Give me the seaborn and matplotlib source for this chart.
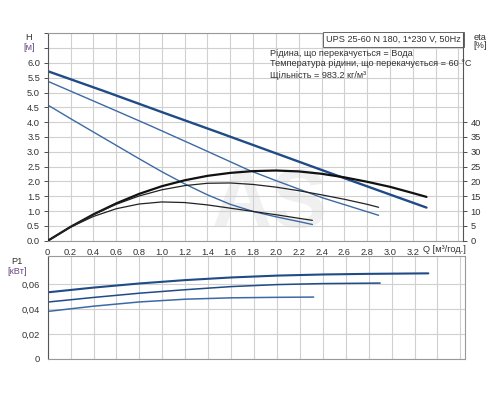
import numpy as np
import pandas as pd
import matplotlib
matplotlib.use("Agg")
import matplotlib.pyplot as plt
import seaborn as sns

# ---- data ----
q_h3 = [0.0, 0.5, 1.0, 1.5, 2.0, 2.5, 3.0, 3.32]
h3 = [5.72, 5.04, 4.34, 3.65, 2.95, 2.25, 1.56, 1.12]
q_h2 = [0.0, 0.5, 0.9, 1.3, 1.77, 2.0, 2.4, 2.9]
h2 = [5.38, 4.55, 3.88, 3.19, 2.37, 2.03, 1.46, 0.86]
q_h1 = [0.0, 0.2, 0.4, 0.6, 0.8, 1.0, 1.2, 1.4, 1.6, 1.8, 2.0, 2.2, 2.32]
h1 = [4.58, 4.12, 3.67, 3.22, 2.77, 2.33, 1.92, 1.55, 1.23, 0.99, 0.81, 0.65, 0.55]

q_e3 = [0.0, 0.2, 0.4, 0.6, 0.8, 1.0, 1.2, 1.4, 1.6, 1.8, 2.0, 2.2, 2.4, 2.6, 2.8, 3.0, 3.2, 3.32]
eta3 = [0.0, 4.7, 8.9, 12.6, 15.8, 18.4, 20.4, 21.9, 22.9, 23.5, 23.7, 23.4, 22.6, 21.4,
        19.9, 18.2, 16.1, 14.8]
q_e2 = [0.0, 0.2, 0.4, 0.6, 0.8, 1.0, 1.2, 1.4, 1.6, 1.8, 2.0, 2.2, 2.4, 2.6, 2.8, 2.9]
eta2 = [0.0, 4.7, 8.8, 12.3, 15.1, 17.2, 18.6, 19.4, 19.5, 19.0, 18.1, 16.9, 15.5, 14.0,
        12.3, 11.3]
q_e1 = [0.0, 0.2, 0.4, 0.6, 0.8, 1.0, 1.2, 1.4, 1.6, 1.8, 2.0, 2.2, 2.32]
eta1 = [0.0, 4.6, 8.2, 10.8, 12.4, 13.1, 12.9, 12.1, 11.0, 9.9, 8.8, 7.6, 6.9]

q_p3 = [0.0, 0.4, 0.8, 1.2, 1.6, 2.0, 2.4, 2.8, 3.32]
p3 = [0.0534, 0.0572, 0.0605, 0.0632, 0.0653, 0.0668, 0.0677, 0.0682, 0.0686]
q_p2 = [0.0, 0.4, 0.8, 1.2, 1.6, 2.0, 2.4, 2.9]
p2 = [0.0456, 0.0493, 0.0527, 0.0555, 0.0580, 0.0596, 0.0604, 0.0608]
q_p1 = [0.0, 0.4, 0.8, 1.2, 1.6, 2.0, 2.32]
p1 = [0.0381, 0.0423, 0.0457, 0.0479, 0.0490, 0.0494, 0.0496]

x_ticks = [0.0, 0.2, 0.4, 0.6, 0.8, 1.0, 1.2, 1.4, 1.6, 1.8, 2.0, 2.2, 2.4, 2.6, 2.8, 3.0, 3.2, 3.4, 3.6]
x_labels = ["0", "0.2", "0.4", "0.6", "0.8", "1.0", "1.2", "1.4", "1.6", "1.8", "2.0",
            "2.2", "2.4", "2.6", "2.8", "3.0", "3.2", "", ""]
h_ticks = [0.0, 0.5, 1.0, 1.5, 2.0, 2.5, 3.0, 3.5, 4.0, 4.5, 5.0, 5.5, 6.0, 6.5, 7.0]
h_labels = ["0.0", "0.5", "1.0", "1.5", "2.0", "2.5", "3.0", "3.5", "4.0", "4.5", "5.0",
            "5.5", "6.0", "", ""]
eta_ticks = [0, 5, 10, 15, 20, 25, 30, 35, 40]
p_ticks = [0.0, 0.02, 0.04, 0.06]
p_labels = ["0", "0,02", "0,04", "0,06"]

title_box = "UPS 25-60 N 180, 1*230 V, 50Hz"
info_lines = ["Рідина, що перекачується = Вода",
              "Температура рідини, що перекачується = 60 °C",
              "Щільність = 983.2 кг/м³"]

# ---- style ----
sns.set_style("white")
plt.rcParams['font.family'] = ['Liberation Sans', 'DejaVu Sans']

fig = plt.figure(figsize=(5, 4), dpi=100)
ax = fig.add_axes([0.0954, 0.398, 0.8306, 0.519])
axe = ax.twinx()
axp = fig.add_axes([0.0954, 0.1025, 0.8346, 0.2575])

BLUE_T = "#1f4b87"
BLUE = "#3c6aa6"
BLACK = "#111111"
GRID = "#d0d0d0"
TXT = "#333333"
FS = 6.3

def draw(axis, q, v, color, lw):
    df = pd.DataFrame({"Q": q, "V": v})
    sns.lineplot(data=df, x="Q", y="V", ax=axis, color=color, linewidth=lw,
                 estimator=None, sort=False)

draw(ax, q_h3, h3, BLUE_T, 1.7)
draw(ax, q_h2, h2, BLUE, 1.0)
draw(ax, q_h1, h1, BLUE, 1.0)
draw(axe, q_e3, eta3, BLACK, 1.6)
draw(axe, q_e2, eta2, "#222222", 0.9)
draw(axe, q_e1, eta1, "#222222", 0.9)
draw(axp, q_p3, p3, BLUE_T, 1.5)
draw(axp, q_p2, p2, BLUE_T, 1.1)
draw(axp, q_p1, p1, BLUE, 1.1)

xmax = 3.64
for a in (ax, axp):
    a.set_xlim(0, xmax)
    a.set_xticks(x_ticks)
    a.grid(True, color=GRID, linewidth=0.8)
    a.set_axisbelow(True)
    a.set_xlabel("")
    a.set_ylabel("")

ax.set_ylim(0, 7.0)
ax.set_yticks(h_ticks)
ax.set_yticklabels(h_labels)
ax.set_xticklabels(x_labels)
axe.set_ylim(0, 70)
axe.set_yticks(eta_ticks)
axe.set_yticklabels([str(t) for t in eta_ticks])
axe.set_ylabel("")
axe.grid(False)

axp.set_ylim(0, 0.0825)
axp.set_yticks(p_ticks)
axp.set_yticklabels(p_labels)
axp.set_xticklabels([])

for a in (ax, axe, axp):
    a.tick_params(labelsize=FS + 0.4, colors=TXT, length=3, width=0.6, pad=2.5)
axp.tick_params(axis="x", length=0)

for s in ("top", "bottom"):
    ax.spines[s].set_color("#999999")
ax.spines["left"].set_color("#555555")
ax.spines["right"].set_visible(False)
axe.spines["top"].set_visible(False)
axe.spines["left"].set_visible(False)
axe.spines["bottom"].set_visible(False)
axe.spines["right"].set_color("#555555")
for s in ("top", "bottom", "right"):
    axp.spines[s].set_color("#999999")
axp.spines["left"].set_color("#555555")
for a in (ax, axe, axp):
    for sp in a.spines.values():
        sp.set_linewidth(0.8)

# watermark
ax.text(1.95, 1.2, "AS", fontsize=60, color="#f0f0f0", ha="center", va="center",
        fontweight="bold", zorder=0)

# axis unit labels
fig.text(29 / 500, 1 - 37 / 400, "H", fontsize=FS + 0.4, color=TXT, ha="center", va="center")
fig.text(29 / 500, 1 - 47 / 400, "[м]", fontsize=FS + 0.4, color="#6a4a8a", ha="center", va="center")
fig.text(480 / 500, 1 - 37 / 400, "eta", fontsize=FS + 0.4, color=TXT, ha="center", va="center")
fig.text(480 / 500, 1 - 46 / 400, "[%]", fontsize=FS + 0.4, color=TXT, ha="center", va="center")
fig.text(17 / 500, 1 - 262 / 400, "P1", fontsize=FS + 0.4, color=TXT, ha="center", va="center")
fig.text(17 / 500, 1 - 272 / 400, "[кВт]", fontsize=FS + 0.4, color="#6a4a8a", ha="center", va="center")
ax.text(3.29, -0.02, "Q [м³/год.]", transform=ax.get_xaxis_transform(),
        fontsize=FS + 0.4, color=TXT, ha="left", va="top")

# info box
ax.text(0.995, 0.992, title_box, transform=ax.transAxes, fontsize=FS + 0.3, color=TXT,
        ha="right", va="top",
        bbox=dict(boxstyle="square,pad=0.3", facecolor="white", edgecolor="#666666",
                  linewidth=0.7))
for i, line in enumerate(info_lines):
    fig.text(270 / 500, 1 - (53 + 11 * i) / 400, line, fontsize=FS + 0.3, color=TXT,
             ha="left", va="center")

fig.savefig("out.png", dpi=100)
